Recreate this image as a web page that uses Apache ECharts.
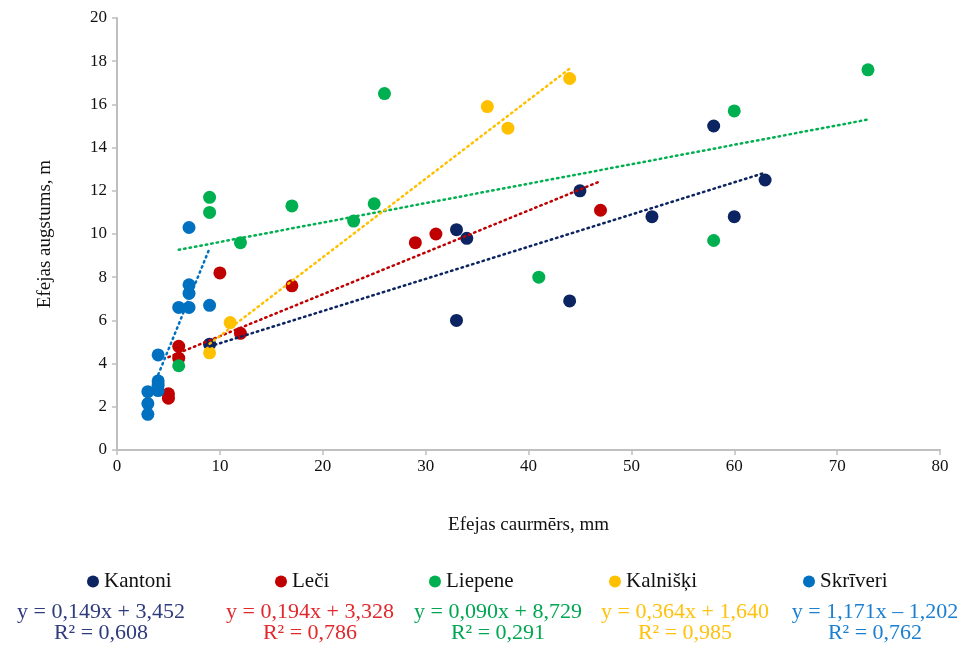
<!DOCTYPE html>
<html>
<head>
<meta charset="utf-8">
<script src="https://cdn.jsdelivr.net/npm/echarts@6/dist/echarts.min.js"></script>
<style>
  html, body { margin: 0; padding: 0; background: #fff; }
  #chart { width: 971px; height: 645px; }
</style>
</head>
<body>
<div id="chart"></div>
<script>
  // sērijas (caurmērs mm, augstums m)
  const names = ['Kantoni', 'Leči', 'Liepene', 'Kalnišķi', 'Skrīveri']
  const kantoniX = [9, 33, 34, 33, 44, 45, 52, 58, 60, 63]
  const kantoniY = [4.9, 10.2, 9.8, 6.0, 6.9, 12.0, 10.8, 15.0, 10.8, 12.5]
  const leciX = [5, 5, 6, 6, 10, 12, 17, 29, 31, 47]
  const leciY = [2.6, 2.4, 4.8, 4.25, 8.2, 5.4, 7.6, 9.6, 10.0, 11.1]
  const liepeneX = [6, 9, 9, 12, 17, 23, 25, 26, 41, 58, 60, 73]
  const liepeneY = [3.9, 11.7, 11.0, 9.6, 11.3, 10.6, 11.4, 16.5, 8.0, 9.7, 15.7, 17.6]
  const kalniskiX = [9, 11, 36, 38, 44]
  const kalniskiY = [4.5, 5.9, 15.9, 14.9, 17.2]
  const skriveriX = [3, 3, 3, 4, 4, 4, 4, 6, 7, 7, 7, 9, 7]
  const skriveriY = [1.65, 2.15, 2.7, 4.4, 3.2, 3.0, 2.75, 6.6, 6.6, 7.25, 7.65, 6.7, 10.3]

  // trenda līnijas
  const slopes = [0.149, 0.194, 0.090, 0.364, 1.171]
  const intercepts = [3.452, 3.328, 8.729, 1.640, -1.202]
  const equations = ['y = 0,149x + 3,452', 'y = 0,194x + 3,328', 'y = 0,090x + 8,729', 'y = 0,364x + 1,640', 'y = 1,171x – 1,202']
  const r2 = ['0,608', '0,786', '0,291', '0,985', '0,762']

  const colors = ['#0c2461', '#c00000', '#00b050', '#ffc000', '#0070c0']
  const eqColors = ['#2e3b7c', '#e0282d', '#00a651', '#ffc20e', '#1b7fd0']
  const xs = [kantoniX, leciX, liepeneX, kalniskiX, skriveriX]
  const ys = [kantoniY, leciY, liepeneY, kalniskiY, skriveriY]

  const font = '"Liberation Serif", "Times New Roman", serif'
  const chart = echarts.init(document.getElementById('chart'))

  const series = []
  names.forEach((n, i) => {
    series.push({
      name: n,
      type: 'scatter',
      symbolSize: 13,
      itemStyle: { color: colors[i], opacity: 1 },
      data: xs[i].map((x, k) => [x, ys[i][k]]),
      z: 2,
    })
  })
  names.forEach((n, i) => {
    const x0 = Math.min(...xs[i])
    const x1 = Math.max(...xs[i])
    series.push({
      name: n + ' trend',
      type: 'line',
      symbol: 'none',
      silent: true,
      lineStyle: { color: colors[i], width: 2.5, type: [1.5, 4], cap: 'round' },
      data: [[x0, slopes[i] * x0 + intercepts[i]], [x1, slopes[i] * x1 + intercepts[i]]],
      z: 3,
    })
  })

  const legendLeft = [82, 270, 424, 604, 798]
  const legends = names.map((n, i) => ({
    data: [n],
    left: legendLeft[i],
    top: 566,
    icon: 'circle',
    itemWidth: 12,
    itemHeight: 12,
    itemGap: 4,
    textStyle: { fontFamily: font, fontSize: 21, color: '#111' },
  }))

  const eqCenters = [101, 310, 498, 685, 875]
  const graphic = []
  eqCenters.forEach((cx, i) => {
    graphic.push({
      type: 'text', x: cx, y: 612,
      style: { text: equations[i], font: '22px ' + font, fill: eqColors[i], align: 'center', verticalAlign: 'middle' },
    })
    graphic.push({
      type: 'text', x: cx, y: 633,
      style: { text: 'R² = ' + r2[i], font: '22px ' + font, fill: eqColors[i], align: 'center', verticalAlign: 'middle' },
    })
  })

  chart.setOption({
    animation: false,
    color: colors,
    legend: legends,
    graphic: graphic,
    grid: { left: 117, right: 31, top: 18, bottom: 195 },
    xAxis: {
      type: 'value', min: 0, max: 80, interval: 10,
      name: 'Efejas caurmērs, mm', nameLocation: 'middle', nameGap: 66,
      nameTextStyle: { fontFamily: font, fontSize: 19, color: '#111' },
      axisLine: { lineStyle: { color: '#bfbfbf', width: 2 } },
      axisTick: { show: true, length: 5, lineStyle: { color: '#bfbfbf', width: 1.5 } },
      axisLabel: { fontFamily: font, fontSize: 17, color: '#111', margin: 8 },
      splitLine: { show: false },
    },
    yAxis: {
      type: 'value', min: 0, max: 20, interval: 2,
      name: 'Efejas augstums, m', nameLocation: 'middle', nameGap: 62,
      nameTextStyle: { fontFamily: font, fontSize: 19, color: '#111' },
      axisLine: { show: true, lineStyle: { color: '#bfbfbf', width: 2 } },
      axisTick: { show: true, length: 5, lineStyle: { color: '#bfbfbf', width: 1.5 } },
      axisLabel: { fontFamily: font, fontSize: 17, color: '#111', margin: 10 },
      splitLine: { show: false },
    },
    series: series,
  })
</script>
</body>
</html>
